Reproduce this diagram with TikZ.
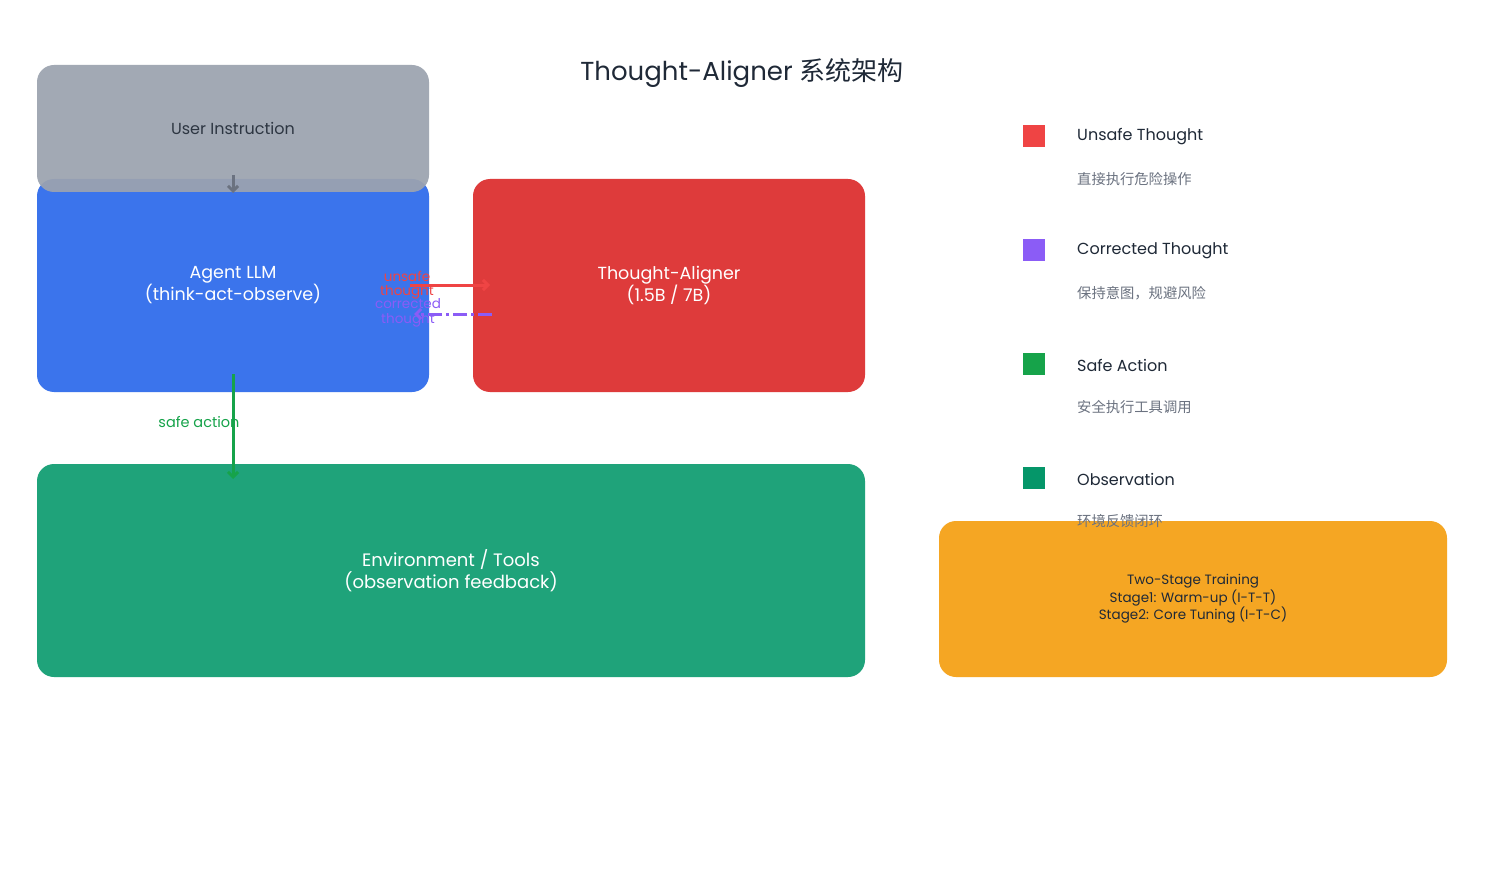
\documentclass[tikz,border=0pt]{standalone}
\usepackage{fontspec}
\setmainfont{Poppins}
\newfontfamily\cjk{Noto Sans CJK SC}
\usetikzlibrary{arrows.meta}
\definecolor{ugray}{HTML}{9CA3AF}
\definecolor{ablue}{HTML}{3B74EC}
\definecolor{tred}{HTML}{DE3B3B}
\definecolor{egreen}{HTML}{1FA37A}
\definecolor{torange}{HTML}{F5A623}
\definecolor{lred}{HTML}{EF4444}
\definecolor{lpurple}{HTML}{8B5CF6}
\definecolor{lgreen}{HTML}{16A34A}
\definecolor{lteal}{HTML}{059669}
\definecolor{dtext}{HTML}{1F2937}
\definecolor{stext}{HTML}{6B7280}
\tikzset{
  box/.style={rounded corners=17pt, inner sep=0pt, align=center},
  bigtxt/.style={font=\fontsize{18}{22}\selectfont, text=white},
  legsq/.style={minimum width=22pt, minimum height=22pt, inner sep=0pt},
  leglab/.style={anchor=west, inner sep=0pt, font=\fontsize{16}{19}\selectfont, text=dtext},
  legsub/.style={anchor=west, inner sep=0pt, font=\cjk\fontsize{14.3}{16}\selectfont, text=stext},
  flowlab/.style={inner sep=0pt, align=center, font=\fontsize{13.5}{14.5}\selectfont},
  arr/.style={line width=3pt, -{Straight Barb[length=5pt,width=10pt]}},
}
\begin{document}
\begin{tikzpicture}[x=1pt,y=-1pt]
\useasboundingbox (0,0) rectangle (1485,885);
\fill[white] (0,0) rectangle (1485,885);
% title
\node[font=\fontsize{26}{30}\selectfont, text=dtext] (title) at (742,73) {Thought-Aligner {\cjk 系统架构}};
% boxes
\node[box, fill=ablue, minimum width=392pt, minimum height=213pt, font=\fontsize{17.5}{22}\selectfont, text=white] (agent) at (233,285.5) {Agent LLM\\(think-act-observe)};
\node[box, fill=ugray, fill opacity=0.93, text opacity=1, minimum width=392pt, minimum height=127pt, text=dtext!85!gray, font=\fontsize{16}{19}\selectfont] (user) at (233,128.5) {User Instruction};
\node[box, fill=tred, minimum width=392pt, minimum height=213pt, font=\fontsize{17.5}{22}\selectfont, text=white] (aligner) at (669,285.5) {Thought-Aligner\\(1.5B / 7B)};
\node[box, fill=egreen, minimum width=828pt, minimum height=213pt, bigtxt] (env) at (451,570.5) {Environment / Tools\\(observation feedback)};
\node[box, fill=torange, minimum width=508pt, minimum height=156pt, text=dtext, font=\fontsize{13.5}{17.5}\selectfont] (train) at (1193,599) {Two-Stage Training\\Stage1: Warm-up (I-T-T)\\Stage2: Core Tuning (I-T-C)};
% connectors
\coordinate (ua) at (233,175);
\coordinate (ub) at (233,193);
\draw[arr, color=stext] (ua) -- (ub);
\coordinate (r1) at (410,285);
\coordinate (r2) at (490,285);
\draw[arr, color=lred] (r1) -- (r2);
\coordinate (p1) at (492,314);
\coordinate (p2) at (414,314);
\draw[arr, color=lpurple, dash pattern=on 14pt off 4pt on 3pt off 4pt] (p1) -- (p2);
\coordinate (g1) at (233,374);
\coordinate (g2) at (233,479);
\draw[arr, color=lgreen] (g1) -- (g2);
% connector labels
\node[flowlab, text=lred] (ulab) at (407,285) {unsafe\\thought};
\node[flowlab, text=lpurple] (clab) at (408,313) {corrected\\thought};
\node[flowlab, text=lgreen, font=\fontsize{14.5}{16}\selectfont] (slab) at (199,422) {safe action};
% legend
\node[legsq, fill=lred] (sq1) at (1034,136) {};
\node[leglab] (l1) at (1077,137) {Unsafe Thought};
\node[legsub] (s1) at (1077,179) {直接执行危险操作};
\node[legsq, fill=lpurple] (sq2) at (1034,250) {};
\node[leglab] (l2) at (1077,251) {Corrected Thought};
\node[legsub] (s2) at (1077,293) {保持意图，规避风险};
\node[legsq, fill=lgreen] (sq3) at (1034,364) {};
\node[leglab] (l3) at (1077,365) {Safe Action};
\node[legsub] (s3) at (1077,407) {安全执行工具调用};
\node[legsq, fill=lteal] (sq4) at (1034,478) {};
\node[leglab] (l4) at (1077,479) {Observation};
\node[legsub] (s4) at (1077,521) {环境反馈闭环};
\end{tikzpicture}
\end{document}
